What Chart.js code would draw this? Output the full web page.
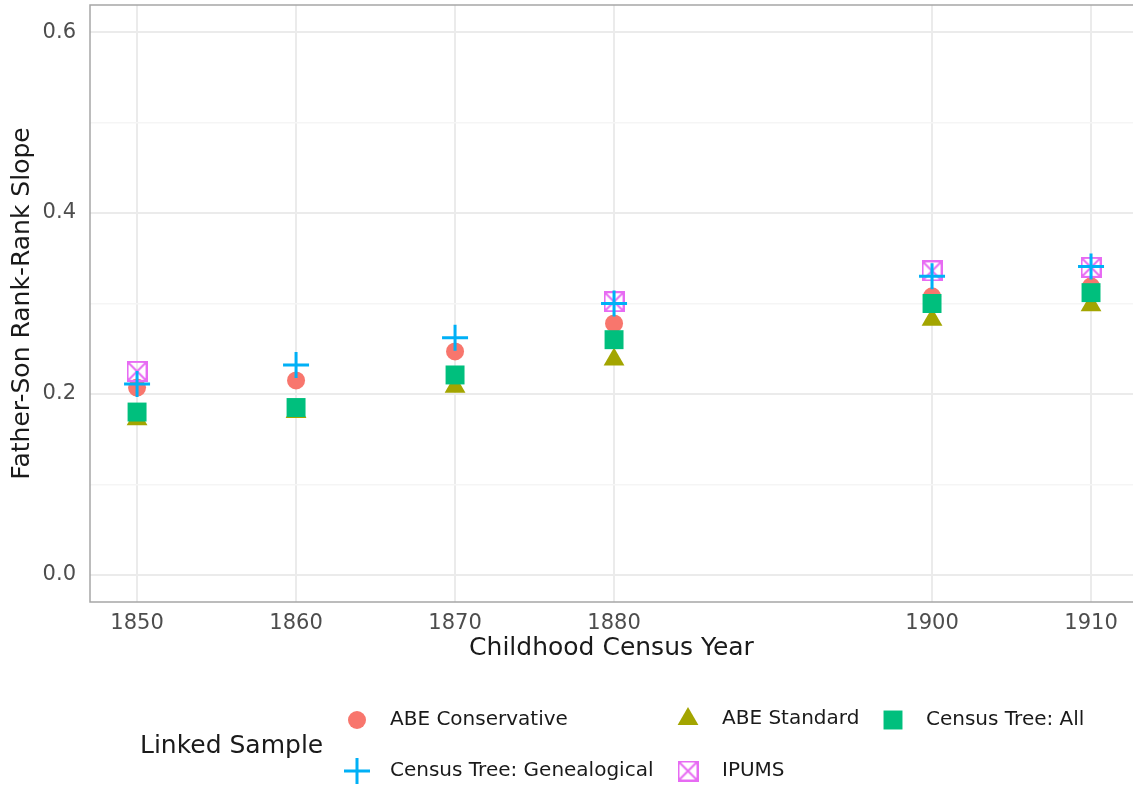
<!DOCTYPE html>
<html>
<head>
<meta charset="utf-8">
<title>Father-Son Rank-Rank Slope</title>
<script src="https://cdn.jsdelivr.net/npm/chart.js@4.4.1/dist/chart.umd.min.js"></script>
<style>
  body { margin: 0; background: #fff; }
  canvas { display: block; }
</style>
</head>
<body>
<canvas id="slopeChart" width="1133" height="789"></canvas>
<script>
// Data
const years = [1850, 1860, 1870, 1880, 1900, 1910];
const abeConservative = [0.207, 0.215, 0.247, 0.278, 0.308, 0.319];
const abeStandard = [0.172, 0.180, 0.208, 0.238, 0.282, 0.298];
const censusTreeAll = [0.180, 0.185, 0.221, 0.260, 0.300, 0.312];
const censusTreeGen = [0.211, 0.232, 0.262, 0.300, 0.330, 0.341];
const ipums = [0.225, null, null, 0.302, 0.336, 0.340];
const yTicks = [0, 0.1, 0.2, 0.3, 0.4, 0.5, 0.6];

const FONT = "'DejaVu Sans', Verdana, sans-serif";

// square with an X inside (IPUMS marker)
function boxCross(color, size) {
    const c = document.createElement('canvas');
    c.width = size; c.height = size;
    const g = c.getContext('2d');
    g.strokeStyle = color;
    g.lineWidth = 2;
    g.strokeRect(1, 1, size - 2, size - 2);
    g.beginPath();
    g.moveTo(2, 2); g.lineTo(size - 2, size - 2);
    g.moveTo(size - 2, 2); g.lineTo(2, size - 2);
    g.stroke();
    return c;
}

function pts(values) {
    return years.map(function (yr, i) { return { x: yr, y: values[i] }; })
        .filter(function (p) { return p.y !== null; });
}

const ipumsMarker = boxCross('#E76BF3', 21);

const datasets = [
    { label: 'ABE Conservative', data: pts(abeConservative), pointStyle: 'circle', pointRadius: 9,
      backgroundColor: '#F8766D', borderColor: '#F8766D', borderWidth: 0, order: 5 },
    { label: 'ABE Standard', data: pts(abeStandard), pointStyle: 'triangle', pointRadius: 12,
      backgroundColor: '#A3A500', borderColor: '#A3A500', borderWidth: 0, order: 4 },
    { label: 'Census Tree: All', data: pts(censusTreeAll), pointStyle: 'rect', pointRadius: 13.4,
      backgroundColor: '#00BF7D', borderColor: '#00BF7D', borderWidth: 0, order: 3 },
    { label: 'Census Tree: Genealogical', data: pts(censusTreeGen), pointStyle: 'cross', pointRadius: 13,
      backgroundColor: '#00B0F6', borderColor: '#00B0F6', borderWidth: 3, order: 1 },
    { label: 'IPUMS', data: pts(ipums), pointStyle: ipumsMarker, pointRadius: 10,
      backgroundColor: '#E76BF3', borderColor: '#E76BF3', borderWidth: 0, order: 2 }
];

// legend slots: [marker x, marker y, text x]
const legendSlots = [[357, 720, 390], [688, 719, 722], [893, 720, 926], [357, 771, 390], [688, 771, 722]];

const panelAndLegend = {
    id: 'panelAndLegend',
    beforeDatasetsDraw: function (chart) {
        const a = chart.chartArea;
        const ctx = chart.ctx;
        ctx.save();
        ctx.strokeStyle = '#A6A6A6';
        ctx.lineWidth = 1.5;
        ctx.beginPath();
        ctx.moveTo(a.right + 2, a.top);
        ctx.lineTo(a.left, a.top);
        ctx.lineTo(a.left, a.bottom);
        ctx.lineTo(a.right + 2, a.bottom);
        ctx.stroke();
        ctx.restore();
    },
    afterDraw: function (chart) {
        const ctx = chart.ctx;
        ctx.save();
        ctx.fillStyle = '#1A1A1A';
        ctx.font = '25px ' + FONT;
        ctx.textBaseline = 'middle';
        ctx.textAlign = 'left';
        ctx.fillText('Linked Sample', 140, 746);
        chart.data.datasets.forEach(function (ds, i) {
            const s = legendSlots[i];
            ctx.fillStyle = ds.backgroundColor;
            ctx.strokeStyle = ds.borderColor;
            ctx.lineWidth = ds.borderWidth;
            Chart.helpers.drawPoint(ctx, {
                pointStyle: ds.pointStyle, radius: ds.pointRadius, rotation: 0, borderWidth: ds.borderWidth
            }, s[0], s[1]);
            ctx.fillStyle = '#1A1A1A';
            ctx.font = '20px ' + FONT;
            ctx.fillText(ds.label, s[2], s[1]);
        });
        ctx.restore();
    }
};

new Chart(document.getElementById('slopeChart'), {
    type: 'scatter',
    data: { datasets: datasets },
    plugins: [panelAndLegend],
    options: {
        responsive: false,
        animation: false,
        devicePixelRatio: 1,
        layout: { autoPadding: false, padding: { top: 5, right: 0, bottom: 126, left: 0 } },
        plugins: { legend: { display: false }, tooltip: { enabled: false } },
        scales: {
            x: {
                type: 'linear',
                min: 1847.04,
                max: 1912.64,
                afterBuildTicks: function (scale) {
                    scale.ticks = years.map(function (v) { return { value: v }; });
                },
                afterFit: function (scale) {
                    scale.height = 61;
                    scale.paddingLeft = 0;
                    scale.paddingRight = 0;
                },
                ticks: {
                    padding: 9,
                    color: '#4D4D4D',
                    font: { family: FONT, size: 21 },
                    maxRotation: 0,
                    autoSkip: false,
                    callback: function (v) { return String(v); }
                },
                grid: { color: '#EBEBEB', lineWidth: 2, drawTicks: false },
                border: { display: false },
                title: {
                    display: true,
                    text: 'Childhood Census Year',
                    color: '#1A1A1A',
                    font: { family: FONT, size: 25 },
                    padding: { top: 0, bottom: 0 }
                }
            },
            y: {
                min: -0.03,
                max: 0.63,
                afterBuildTicks: function (scale) {
                    scale.ticks = yTicks.map(function (v) { return { value: v }; });
                },
                afterFit: function (scale) {
                    scale.width = 90;
                    scale.paddingTop = 0;
                    scale.paddingBottom = 0;
                },
                ticks: {
                    padding: 14,
                    color: '#4D4D4D',
                    font: { family: FONT, size: 21 },
                    autoSkip: false,
                    callback: function (v) {
                        const major = Math.round(v * 10) % 2 === 0;
                        return major ? v.toFixed(1) : '';
                    }
                },
                grid: {
                    drawTicks: false,
                    color: function (c) {
                        return Math.round(c.tick.value * 10) % 2 === 0 ? '#EBEBEB' : '#F5F5F5';
                    },
                    lineWidth: function (c) {
                        return Math.round(c.tick.value * 10) % 2 === 0 ? 2 : 1.5;
                    }
                },
                border: { display: false },
                title: {
                    display: true,
                    text: 'Father-Son Rank-Rank Slope',
                    color: '#1A1A1A',
                    font: { family: FONT, size: 25 },
                    padding: { top: 7, bottom: 0 }
                }
            }
        }
    }
});
</script>
</body>
</html>
